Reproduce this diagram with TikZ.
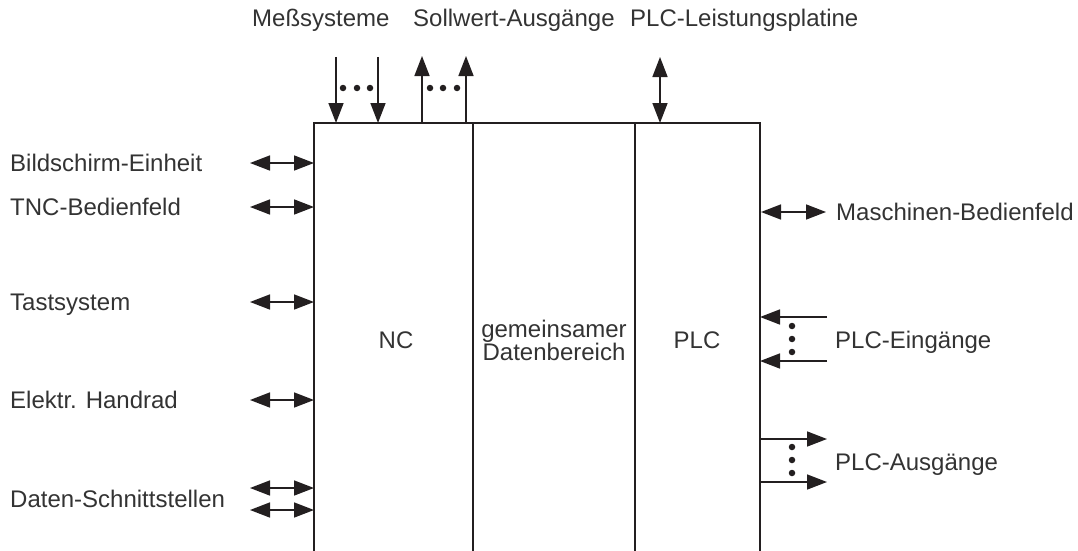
\documentclass[tikz,border=0pt]{standalone}
\usepackage{fontspec}
\setmainfont{Liberation Sans}
\usetikzlibrary{arrows.meta}
\definecolor{ink}{HTML}{231F20}
\definecolor{txt}{HTML}{333333}
\begin{document}
\begin{tikzpicture}[x=1pt,y=-1pt,
  frame/.style={draw=ink, line width=1.6pt},
  conn/.style={draw=ink, line width=1.6pt, -{Triangle[length=20pt,width=15pt]}},
  bicon/.style={draw=ink, line width=1.6pt, {Triangle[length=20pt,width=15pt]}-{Triangle[length=20pt,width=15pt]}},
  lbl/.style={inner sep=0pt, text=txt, font=\fontsize{24}{23}\selectfont},
  dotn/.style={circle, fill=ink, inner sep=0pt, minimum size=6.5pt},
]
\useasboundingbox (0,0) rectangle (1078,551);

% frame (open at the bottom)
\coordinate (bl) at (314,551);
\coordinate (tl) at (314,123);
\coordinate (tr) at (760,123);
\coordinate (br) at (760,551);
\coordinate (s1t) at (473,123);
\coordinate (s1b) at (473,551);
\coordinate (s2t) at (635,123);
\coordinate (s2b) at (635,551);
\draw[frame] (bl) -- (tl) -- (tr) -- (br);
\draw[frame] (s1t) -- (s1b);
\draw[frame] (s2t) -- (s2b);

% column texts
\node[lbl] (nc) at (396,340) {NC};
\node[lbl, align=center] (gd) at (554,340) {gemeinsamer\\Datenbereich};
\node[lbl] (plc) at (697,340) {PLC};

% top labels
\node[lbl, anchor=base west] (mess) at (252,27) {Meßsysteme};
\node[lbl, anchor=base west] (soll) at (413,27) {Sollwert-Ausgänge};
\node[lbl, anchor=base west] (leist) at (630,27) {PLC-Leistungsplatine};

% top arrows
\coordinate (m1a) at (336,57); \coordinate (m1b) at (336,123);
\coordinate (m2a) at (378,57); \coordinate (m2b) at (378,123);
\draw[conn] (m1a) -- (m1b);
\draw[conn] (m2a) -- (m2b);
\node[dotn] (md1) at (343,88) {};
\node[dotn] (md2) at (357,88) {};
\node[dotn] (md3) at (370,88) {};

\coordinate (s1a) at (422,123); \coordinate (s1z) at (422,56);
\coordinate (s2a) at (466,123); \coordinate (s2z) at (466,56);
\draw[conn] (s1a) -- (s1z);
\draw[conn] (s2a) -- (s2z);
\node[dotn] (sd1) at (430,88) {};
\node[dotn] (sd2) at (443,88) {};
\node[dotn] (sd3) at (457,88) {};

\coordinate (la) at (660,57); \coordinate (lb) at (660,123);
\draw[bicon] (la) -- (lb);

% left side
\foreach \y/\name/\txt in {163/bild/Bildschirm-Einheit, 207/tnc/TNC-Bedienfeld, 302/tast/Tastsystem, 400/hand/Elektr. Handrad}{
  \node[lbl, anchor=base west] (\name) at (10,\y+8.6) {\txt};
  \coordinate (\name a) at (250,\y);
  \coordinate (\name b) at (314,\y);
  \draw[bicon] (\name a) -- (\name b);
}
\node[lbl, anchor=base west] (daten) at (10,507.6) {Daten-Schnittstellen};
\coordinate (d1a) at (250,488); \coordinate (d1b) at (314,488);
\coordinate (d2a) at (250,510); \coordinate (d2b) at (314,510);
\draw[bicon] (d1a) -- (d1b);
\draw[bicon] (d2a) -- (d2b);

% right side
\node[lbl, anchor=base west] (masch) at (836,220.6) {Maschinen-Bedienfeld};
\coordinate (ma) at (761,212); \coordinate (mb) at (826,212);
\draw[bicon] (ma) -- (mb);

\node[lbl, anchor=base west] (ein) at (835,348.6) {PLC-Eingänge};
\coordinate (e1a) at (827,317); \coordinate (e1b) at (760,317);
\coordinate (e2a) at (827,361); \coordinate (e2b) at (760,361);
\draw[conn] (e1a) -- (e1b);
\draw[conn] (e2a) -- (e2b);
\node[dotn] (ed1) at (792,326) {};
\node[dotn] (ed2) at (792,339) {};
\node[dotn] (ed3) at (792,352) {};

\node[lbl, anchor=base west] (aus) at (835,470.6) {PLC-Ausgänge};
\coordinate (a1a) at (760,439); \coordinate (a1b) at (827,439);
\coordinate (a2a) at (760,482); \coordinate (a2b) at (827,482);
\draw[conn] (a1a) -- (a1b);
\draw[conn] (a2a) -- (a2b);
\node[dotn] (ad1) at (792,447) {};
\node[dotn] (ad2) at (792,460) {};
\node[dotn] (ad3) at (792,473) {};
\end{tikzpicture}
\end{document}
